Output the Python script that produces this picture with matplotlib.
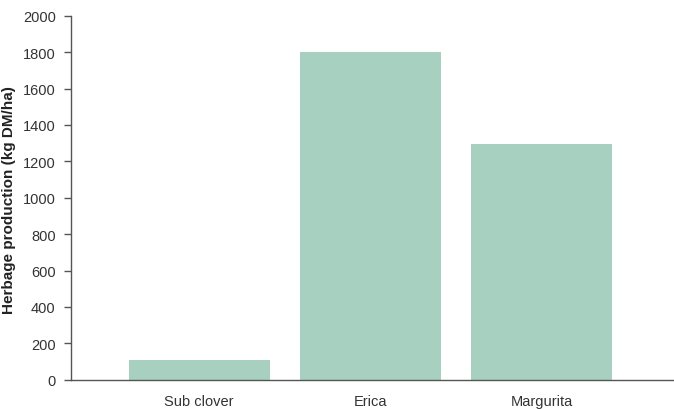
import matplotlib
matplotlib.use("Agg")
import matplotlib.pyplot as plt

categories = ["Sub clover", "Erica", "Margurita"]
values = [108, 1800, 1295]
yticks = [0, 200, 400, 600, 800, 1000, 1200, 1400, 1600, 1800, 2000]

plt.rcParams['font.family'] = ['Liberation Sans', 'DejaVu Sans']

fig = plt.figure(figsize=(6.74, 4.10), dpi=100)
ax = fig.add_axes([71/674, 1 - 380.7/410, 1 - 71/674, (380.7 - 16.7)/410])

x = list(range(len(categories)))
ax.bar(x, values, width=0.825, color="#a8d0c1", zorder=2)

ax.set_xlim(-0.749, 2.775)
ax.set_ylim(0, 2000)
ax.set_yticks(yticks)
ax.set_yticklabels([str(t) for t in yticks])
ax.set_xticks(x)
ax.set_xticklabels(categories)

for s in ["top", "right"]:
    ax.spines[s].set_visible(False)
for s in ["left", "bottom"]:
    ax.spines[s].set_color("#555555")
    ax.spines[s].set_linewidth(1.0)

ax.tick_params(axis="y", direction="out", length=5, width=1.0, color="#555555",
               labelsize=10.5, labelcolor="#333333", pad=6)
ax.tick_params(axis="x", length=0, labelsize=10.5, labelcolor="#333333", pad=10)

fig.text(9.5/674, 1 - 200.5/410, "Herbage production (kg DM/ha)", fontsize=11,
         fontweight="bold", color="#222222", rotation=90, ha="center", va="center")

fig.savefig("out.png", dpi=100)
